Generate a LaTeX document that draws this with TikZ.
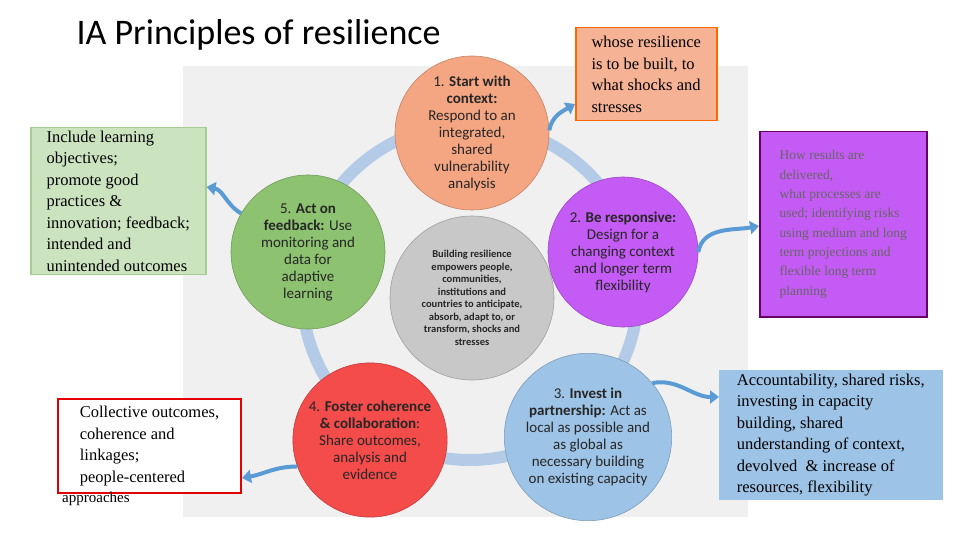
\documentclass[tikz,border=0pt]{standalone}
\usepackage{fontspec}
\setmainfont{Liberation Serif}
\newfontfamily\carl{Carlito}
\usetikzlibrary{arrows.meta}
\definecolor{ringblue}{HTML}{B4CBE8}
\definecolor{corange}{HTML}{F4A582}
\definecolor{cpurple}{HTML}{C45BF5}
\definecolor{cblue}{HTML}{9DC3E6}
\definecolor{cred}{HTML}{F44B4B}
\definecolor{cgreen}{HTML}{8CC270}
\definecolor{cgray}{HTML}{C8C8C8}
\definecolor{arrblue}{HTML}{5B9BD5}
\tikzset{
  circ/.style={circle,draw=#1!80!black,fill=#1,line width=0.6pt,align=center,font=\carl\fontsize{15}{17}\selectfont,text=black!85},
  tbox/.style={draw,line width=1.5pt,align=left,inner sep=3pt,anchor=north west,font=\fontsize{16.5}{21.5}\selectfont},
  carr/.style={draw=arrblue,line width=4pt,-{Triangle[length=9pt,width=13pt]}}
}
\begin{document}
\begin{tikzpicture}[x=1pt,y=-1pt]
\useasboundingbox (0,0) rectangle (960,540);
\fill[white] (0,0) rectangle (960,540);
\fill[black!6] (183,66) rectangle (748,517);
\node[anchor=west,font=\carl\fontsize{36}{40}\selectfont] (title) at (73,35) {IA Principles of resilience};
\draw[ringblue,line width=12pt] (470,292) circle (168);
\node[circ=cgray,minimum size=164pt,font=\carl\bfseries\fontsize{10.5}{12.5}\selectfont] (core) at (472,298) {Building resilience\\empowers people,\\communities,\\institutions and\\countries to anticipate,\\absorb, adapt to, or\\transform, shocks and\\stresses};
\node[circ=corange,minimum size=154pt] (c1) at (472,133) {1. \textbf{Start with}\\\textbf{context:}\\Respond to an\\integrated,\\shared\\vulnerability\\analysis};
\node[circ=cpurple,minimum size=150pt] (c2) at (623,252) {2. \textbf{Be responsive:}\\Design for a\\changing context\\and longer term\\flexibility};
\node[circ=cblue,minimum size=156pt] (c3) at (588,437) {3. \textbf{Invest in}\\\textbf{partnership:} Act as\\local as possible and\\as global as\\necessary building\\on existing capacity};
\node[circ=cred,minimum size=154pt] (c4) at (370,440) {4. \textbf{Foster coherence}\\\textbf{\& collaboration}:\\Share outcomes,\\analysis and\\evidence};
\node[circ=cgreen,minimum size=154pt] (c5) at (308,252) {5. \textbf{Act on}\\\textbf{feedback:} Use\\monitoring and\\data for\\adaptive\\learning};
% boxes
\node[tbox,draw=orange!80!red,fill=corange!85,minimum width=141pt,minimum height=93pt] (b1) at (575,27) {whose resilience\\is to be built, to\\what shocks and\\stresses};
\node[tbox,draw=violet!80!black,fill=cpurple,text=black!60,font=\fontsize{13.5}{19.3}\selectfont,minimum width=167pt,minimum height=185pt] (b2) at (759,131) {How results are\\delivered,\\what processes are\\used; identifying risks\\using medium and long\\term projections and\\flexible long term\\planning};
\node[tbox,draw=cgreen!80,fill=cgreen!45,minimum width=175pt,minimum height=139pt] (b5) at (30,127) {Include learning\\objectives;\\promote good\\practices \&\\innovation; feedback;\\intended and\\unintended outcomes};
\node[tbox,draw=red!90!black,fill=white,minimum width=183pt,minimum height=94pt,line width=2pt] (b4) at (57,398) {Collective outcomes,\\coherence and\\linkages;\\people-centered};
\node[anchor=north west,font=\fontsize{15}{16}\selectfont,inner sep=0pt] (b4x) at (62,492) {approaches};
\node[tbox,draw=cblue,fill=cblue,minimum width=222pt,minimum height=118pt] (b3) at (719,370) {Accountability, shared risks,\\investing in capacity\\building, shared\\understanding of context,\\devolved \ \& increase of\\resources, flexibility};
% arrow ends
\coordinate (e1) at (b1.west|-0,104);
\coordinate (e2) at (b2.west|-0,226);
\coordinate (e3) at (b3.west|-0,397);
\coordinate (e4) at (b4.east|-0,478);
\coordinate (e5) at (b5.east|-0,187);
\draw[carr] (c1.2) to[out=80,in=210] (e1);
\draw[carr] (c2.east) to[out=80,in=190] (e2);
\draw[carr] (c3.40) to[out=10,in=180] (e3);
\draw[carr] (c4.200) to[out=180,in=10] (e4);
\draw[carr] (c5.150) to[out=150,in=-10] (e5);
\end{tikzpicture}
\end{document}
